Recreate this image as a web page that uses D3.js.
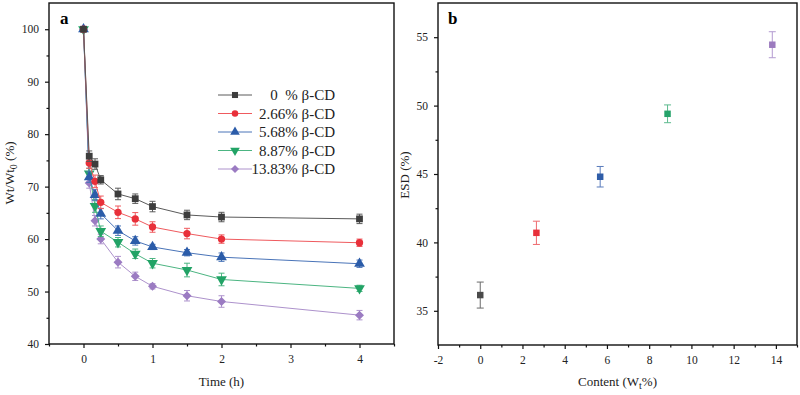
<!DOCTYPE html>
<html><head><meta charset="utf-8">
<script src="https://cdn.jsdelivr.net/npm/d3@7"></script>
<style>
body{margin:0;background:#fff;}
svg{font-family:"Liberation Serif","Times New Roman",serif;}
text{white-space:pre;}
</style></head>
<body><svg id="c" width="800" height="395"></svg>
<script>
// ---- data: panel a ----
const times = [0, 0.083, 0.167, 0.25, 0.5, 0.75, 1, 1.5, 2, 4];
const seriesNames = ["0  % β-CD", "2.66% β-CD", "5.68% β-CD", "8.87% β-CD", "13.83% β-CD"];
const vals0   = [100, 75.8, 74.3, 71.3, 68.6, 67.7, 66.2, 64.6, 64.2, 63.85];
const vals266 = [100, 74.5, 71.0, 67.0, 65.1, 63.85, 62.3, 61.05, 60.0, 59.3];
const vals568 = [100, 71.8, 68.4, 64.85, 61.6, 59.65, 58.5, 57.4, 56.55, 55.3];
const vals887 = [100, 72.5, 66.3, 61.5, 59.4, 57.2, 55.4, 54.1, 52.3, 50.6];
const vals1383= [100, 70.7, 63.5, 60.0, 55.6, 52.9, 51.0, 49.2, 48.1, 45.5];
const err0    = [0, 1.0, 1.0, 0.8, 1.1, 0.9, 1.0, 0.9, 0.9, 0.9];
const err266  = [0, 1.0, 1.2, 1.2, 1.2, 1.2, 1.0, 1.0, 0.8, 0.7];
const err568  = [0, 1.0, 1.0, 1.0, 0.9, 0.8, 0.5, 0.6, 0.8, 0.7];
const err887  = [0, 1.0, 1.2, 1.0, 0.9, 0.9, 0.9, 1.3, 1.2, 0.6];
const err1383 = [0, 1.0, 1.0, 0.9, 1.1, 0.8, 0.5, 1.0, 1.1, 0.9];
const xTicksA = [0, 1, 2, 3, 4];
const yTicksA = [40, 50, 60, 70, 80, 90, 100];
// ---- data: panel b ----
const contents = [0, 2.66, 5.68, 8.87, 13.83];
const esd      = [36.15, 40.7, 44.8, 49.4, 54.45];
const esdErr   = [0.95, 0.85, 0.75, 0.65, 0.95];
const xTicksB = [-2, 0, 2, 4, 6, 8, 10, 12, 14];
const yTicksB = [35, 40, 45, 50, 55];

const markColors = ["#3d3d3d", "#e8303a", "#2b5ca9", "#22a366", "#9b7bc2"];
const lineColors = ["#5a5a5a", "#ef5a5e", "#4a74b8", "#4cb582", "#ad92cc"];
const symbolsA = [d3.symbolSquare, d3.symbolCircle, d3.symbolTriangle, d3.symbolTriangle, d3.symbolDiamond2];
const symRot = [0, 0, 0, 180, 0];
const symSizes = [46, 42, 50, 50, 52];

const svg = d3.select("#c");
const fmt = d => String(d).replace("\u2212","-");

function frame(g, x0, y0, x1, y1){
  g.append("rect").attr("x", x0).attr("y", y0).attr("width", x1-x0).attr("height", y1-y0)
   .attr("fill","none").attr("stroke","#111").attr("stroke-width",1.4);
}
function styleAxis(sel){
  sel.select(".domain").remove();
  sel.selectAll("line").attr("stroke","#111").attr("stroke-width",1.2);
  sel.selectAll("text").attr("fill","#222").style("font-size","11.5px").style("font-family","'Liberation Serif',serif");
}
function minor(sel){
  sel.select(".domain").remove(); sel.selectAll("line").attr("stroke","#111").attr("stroke-width",1.2);
}

// ================= Panel a =================
const A = {l:49, r:394, t:3, b:344};
const xa = d3.scaleLinear().domain([-0.5, 4.5]).range([A.l, A.r]);
const ya = d3.scaleLinear().domain([40, 105]).range([A.b, A.t]);
const ga = svg.append("g");

const gxa = ga.append("g").attr("transform",`translate(0,${A.b})`)
  .call(d3.axisBottom(xa).tickValues(xTicksA).tickSize(4).tickPadding(7).tickFormat(fmt));
styleAxis(gxa);
ga.append("g").attr("transform",`translate(0,${A.b})`)
  .call(d3.axisBottom(xa).tickValues([-0.5,0.5,1.5,2.5,3.5,4.5]).tickSize(2.5).tickFormat("")).call(minor);
const gya = ga.append("g").attr("transform",`translate(${A.l},0)`)
  .call(d3.axisLeft(ya).tickValues(yTicksA).tickSize(4).tickPadding(6).tickFormat(fmt));
styleAxis(gya);
ga.append("g").attr("transform",`translate(${A.l},0)`)
  .call(d3.axisLeft(ya).tickValues([45,55,65,75,85,95]).tickSize(2.5).tickFormat("")).call(minor);
frame(ga, A.l, A.t, A.r, A.b);

const seriesVals = [vals0, vals266, vals568, vals887, vals1383];
const seriesErr = [err0, err266, err568, err887, err1383];
const line = d3.line().x((d,i)=>xa(times[i])).y(d=>ya(d));

for (let s = seriesVals.length-1; s >= 0; s--) {
  const vs = seriesVals[s], es = seriesErr[s];
  const g = ga.append("g");
  g.append("path").attr("d", line(vs)).attr("fill","none").attr("stroke", lineColors[s]).attr("stroke-width",1);
  vs.forEach((v,i)=>{
    if (es[i] > 0) {
      const x = xa(times[i]);
      g.append("line").attr("x1",x).attr("x2",x).attr("y1",ya(v-es[i])).attr("y2",ya(v+es[i])).attr("stroke",lineColors[s]).attr("stroke-width",1);
      [v-es[i], v+es[i]].forEach(e=>g.append("line").attr("x1",x-3).attr("x2",x+3).attr("y1",ya(e)).attr("y2",ya(e)).attr("stroke",lineColors[s]).attr("stroke-width",1));
    }
    g.append("path").attr("d", d3.symbol().type(symbolsA[s]).size(symSizes[s])())
      .attr("transform",`translate(${xa(times[i])},${ya(v)}) rotate(${symRot[s]})`).attr("fill", markColors[s]);
  });
}

// legend
const leg = ga.append("g");
seriesNames.forEach((n,i)=>{
  const y = 95 + i*18.5;
  leg.append("line").attr("x1",218).attr("x2",252).attr("y1",y).attr("y2",y).attr("stroke",lineColors[i]).attr("stroke-width",1);
  leg.append("path").attr("d", d3.symbol().type(symbolsA[i]).size(symSizes[i]*0.8)()).attr("transform",`translate(235,${y}) rotate(${symRot[i]})`).attr("fill",markColors[i]);
  leg.append("text").attr("x",335).attr("y",y+5).attr("text-anchor","end").style("font-size","15px").attr("fill","#222").text(n);
});

ga.append("text").attr("x",60).attr("y",24).style("font-size","17px").style("font-weight","bold").text("a");
ga.append("text").attr("x",(A.l+A.r)/2).attr("y",386).attr("text-anchor","middle").style("font-size","13px").attr("fill","#222").text("Time (h)");
const yt = ga.append("text").attr("transform",`translate(14,173) rotate(-90)`).attr("text-anchor","middle").style("font-size","13px").attr("fill","#222");
yt.append("tspan").text("Wt/Wt");
yt.append("tspan").attr("dy",3).style("font-size","10px").text("0");
yt.append("tspan").attr("dy",-3).text(" (%)");

// ================= Panel b =================
const B = {l:438, r:797, t:3, b:345};
const xb = d3.scaleLinear().domain([-2, 15]).range([B.l, B.r]);
const yb = d3.scaleLinear().domain([32.5, 57.5]).range([B.b, B.t]);
const gb = svg.append("g");
const gxb = gb.append("g").attr("transform",`translate(0,${B.b})`)
  .call(d3.axisBottom(xb).tickValues(xTicksB).tickSize(4).tickPadding(7).tickFormat(fmt));
styleAxis(gxb);
gb.append("g").attr("transform",`translate(0,${B.b})`)
  .call(d3.axisBottom(xb).tickValues([-1,1,3,5,7,9,11,13,15]).tickSize(2.5).tickFormat("")).call(minor);
const gyb = gb.append("g").attr("transform",`translate(${B.l},0)`)
  .call(d3.axisLeft(yb).tickValues(yTicksB).tickSize(4).tickPadding(6).tickFormat(fmt));
styleAxis(gyb);
gb.append("g").attr("transform",`translate(${B.l},0)`)
  .call(d3.axisLeft(yb).tickValues([37.5,42.5,47.5,52.5]).tickSize(2.5).tickFormat("")).call(minor);
frame(gb, B.l, B.t, B.r, B.b);

const colorsB = ["#4a4a4a", "#e8303a", "#2f5da8", "#25a36a", "#9c7bbf"];
const errColB = ["#6a6a6a", "#ee6a6e", "#5a7cbc", "#5dba8e", "#b39ad0"];
contents.forEach((c,i)=>{
  const x = xb(c);
  gb.append("line").attr("x1",x).attr("x2",x).attr("y1",yb(esd[i]-esdErr[i])).attr("y2",yb(esd[i]+esdErr[i])).attr("stroke",errColB[i]).attr("stroke-width",1);
  [esd[i]-esdErr[i], esd[i]+esdErr[i]].forEach(e=>gb.append("line").attr("x1",x-3.5).attr("x2",x+3.5).attr("y1",yb(e)).attr("y2",yb(e)).attr("stroke",errColB[i]).attr("stroke-width",1));
  gb.append("path").attr("d", d3.symbol().type(d3.symbolSquare).size(42)()).attr("transform",`translate(${x},${yb(esd[i])})`).attr("fill",colorsB[i]);
});

gb.append("text").attr("x",448).attr("y",24).style("font-size","17px").style("font-weight","bold").text("b");
const xtb = gb.append("text").attr("x",(B.l+B.r)/2).attr("y",386).attr("text-anchor","middle").style("font-size","13px").attr("fill","#222");
xtb.append("tspan").text("Content (W");
xtb.append("tspan").attr("dy",3).style("font-size","10px").text("t");
xtb.append("tspan").attr("dy",-3).text("%)");
gb.append("text").attr("transform",`translate(409,175) rotate(-90)`).attr("text-anchor","middle").style("font-size","13px").attr("fill","#222").text("ESD (%)");
</script></body></html>
